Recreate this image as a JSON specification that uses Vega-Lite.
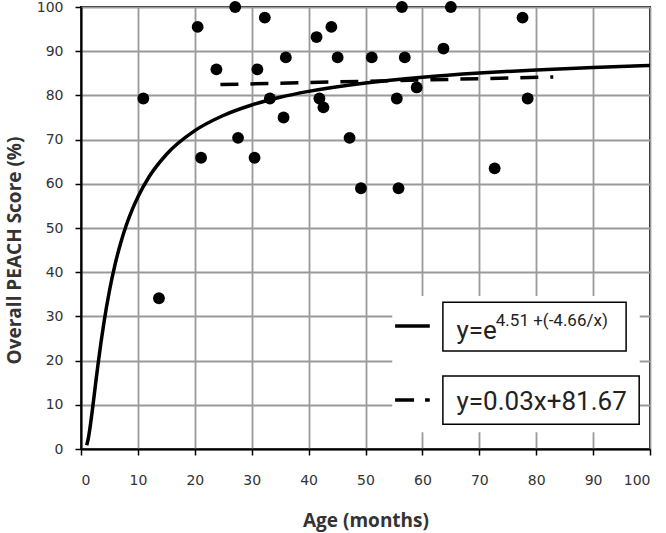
{
  "$schema": "https://vega.github.io/schema/vega-lite/v6.json",
  "width": 569,
  "height": 442,
  "autosize": {"type": "none"},
  "padding": {"left": 81, "top": 7, "right": 16, "bottom": 84},
  "background": "white",
  "config": {
    "view": {"stroke": "black", "strokeWidth": 2},
    "axis": {
      "grid": true,
      "gridColor": "#9a9a9a",
      "gridWidth": 1.8,
      "gridOpacity": 1,
      "domainColor": "black",
      "domainWidth": 2,
      "tickColor": "black",
      "tickWidth": 1.5,
      "tickSize": 6,
      "labelFont": "DejaVu Sans",
      "labelFontSize": 14,
      "labelColor": "#333333",
      "titleFont": "Open Sans",
      "titleFontWeight": "bold",
      "titleFontSize": 19,
      "titleColor": "#333333"
    }
  },
  "datasets": {
    "pts": [
      {"age": 10.95, "score": 79.3},
      {"age": 13.7, "score": 34.1},
      {"age": 20.5, "score": 95.5},
      {"age": 21.1, "score": 65.9},
      {"age": 23.8, "score": 85.9},
      {"age": 27.1, "score": 100},
      {"age": 27.6, "score": 70.4},
      {"age": 30.5, "score": 65.9},
      {"age": 31.0, "score": 85.9},
      {"age": 32.3, "score": 97.6},
      {"age": 33.2, "score": 79.3},
      {"age": 35.6, "score": 75.0},
      {"age": 36.0, "score": 88.6},
      {"age": 41.4, "score": 93.2},
      {"age": 41.9, "score": 79.3},
      {"age": 42.6, "score": 77.3},
      {"age": 44.0, "score": 95.5},
      {"age": 45.1, "score": 88.6},
      {"age": 47.2, "score": 70.4},
      {"age": 49.2, "score": 59.0},
      {"age": 51.1, "score": 88.6},
      {"age": 55.5, "score": 79.3},
      {"age": 55.8, "score": 59.0},
      {"age": 56.4, "score": 100},
      {"age": 56.9, "score": 88.6},
      {"age": 59.0, "score": 81.8},
      {"age": 63.7, "score": 90.6},
      {"age": 65.0, "score": 100},
      {"age": 72.7, "score": 63.5},
      {"age": 77.6, "score": 97.6},
      {"age": 78.5, "score": 79.3}
    ],
    "curve": [
      {"age": 1, "score": 0.86},
      {"age": 1.25, "score": 2.19},
      {"age": 1.5, "score": 4.07},
      {"age": 2, "score": 8.85},
      {"age": 2.5, "score": 14.1},
      {"age": 3, "score": 19.23},
      {"age": 3.5, "score": 24.01},
      {"age": 4, "score": 28.36},
      {"age": 5, "score": 35.81},
      {"age": 6, "score": 41.82},
      {"age": 7, "score": 46.73},
      {"age": 8, "score": 50.79},
      {"age": 9, "score": 54.17},
      {"age": 10, "score": 57.04},
      {"age": 12, "score": 61.65},
      {"age": 15, "score": 66.63},
      {"age": 20, "score": 72.02},
      {"age": 25, "score": 75.45},
      {"age": 30, "score": 77.83},
      {"age": 35, "score": 79.58},
      {"age": 40, "score": 80.91},
      {"age": 50, "score": 82.82},
      {"age": 60, "score": 84.12},
      {"age": 70, "score": 85.06},
      {"age": 80, "score": 85.77},
      {"age": 90, "score": 86.33},
      {"age": 100, "score": 86.78}
    ],
    "trend": [
      {"age": 24.5, "score": 82.45},
      {"age": 83, "score": 84.16}
    ],
    "backdrop": [
      {"x1": 54.7, "x2": 98.2, "y1": 3.8, "y2": 34.6}
    ],
    "boxes": [
      {"x1": 63.6, "x2": 95.8, "y1": 22.2, "y2": 33.2},
      {"x1": 63.6, "x2": 98.1, "y1": 5.6, "y2": 16.5}
    ],
    "solidKey": [
      {"age": 55.2, "score": 27.8},
      {"age": 61.3, "score": 27.8}
    ],
    "dashKey": [
      {"age": 55.2, "score": 11.1},
      {"age": 61.3, "score": 11.1}
    ],
    "bigText": [
      {"age": 66.0, "score": 24.9, "label": "y=e"},
      {"age": 66.0, "score": 8.8, "label": "y=0.03x+81.67"}
    ],
    "supText": [
      {"age": 72.9, "score": 27.9, "label": "4.51 +(-4.66/x)"}
    ]
  },
  "layer": [
    {
      "data": {"name": "curve"},
      "mark": {"type": "line", "color": "black", "strokeWidth": 3.5, "interpolate": "monotone"},
      "encoding": {
        "x": {
          "field": "age", "type": "quantitative",
          "scale": {"domain": [0, 100], "nice": false},
          "axis": {"values": [0,10,20,30,40,50,60,70,80,90,100], "title": "Age (months)", "labelPadding": 18, "titleY": 71, "titleBaseline": "middle"}
        },
        "y": {
          "field": "score", "type": "quantitative",
          "scale": {"domain": [0, 100], "nice": false},
          "axis": {"values": [0,10,20,30,40,50,60,70,80,90,100], "title": "Overall PEACH Score (%)", "labelPadding": 12, "titleX": -67, "titleY": 243, "titleBaseline": "middle"}
        }
      }
    },
    {
      "data": {"name": "trend"},
      "mark": {"type": "line", "color": "black", "strokeWidth": 3.5, "strokeDash": [18, 12]},
      "encoding": {
        "x": {"field": "age", "type": "quantitative"},
        "y": {"field": "score", "type": "quantitative"}
      }
    },
    {
      "data": {"name": "pts"},
      "mark": {"type": "circle", "color": "black", "opacity": 1, "size": 140},
      "encoding": {
        "x": {"field": "age", "type": "quantitative"},
        "y": {"field": "score", "type": "quantitative"}
      }
    },
    {
      "data": {"name": "backdrop"},
      "mark": {"type": "rect", "fill": "white", "stroke": null},
      "encoding": {
        "x": {"field": "x1", "type": "quantitative"},
        "x2": {"field": "x2"},
        "y": {"field": "y1", "type": "quantitative"},
        "y2": {"field": "y2"}
      }
    },
    {
      "data": {"name": "boxes"},
      "mark": {"type": "rect", "fill": "white", "stroke": "black", "strokeWidth": 1.5},
      "encoding": {
        "x": {"field": "x1", "type": "quantitative"},
        "x2": {"field": "x2"},
        "y": {"field": "y1", "type": "quantitative"},
        "y2": {"field": "y2"}
      }
    },
    {
      "data": {"name": "solidKey"},
      "mark": {"type": "line", "color": "black", "strokeWidth": 3.5},
      "encoding": {
        "x": {"field": "age", "type": "quantitative"},
        "y": {"field": "score", "type": "quantitative"}
      }
    },
    {
      "data": {"name": "dashKey"},
      "mark": {"type": "line", "color": "black", "strokeWidth": 3.5, "strokeDash": [19, 11]},
      "encoding": {
        "x": {"field": "age", "type": "quantitative"},
        "y": {"field": "score", "type": "quantitative"}
      }
    },
    {
      "data": {"name": "bigText"},
      "mark": {"type": "text", "font": "Roboto", "fontSize": 26, "align": "left", "baseline": "alphabetic", "color": "#222222"},
      "encoding": {
        "x": {"field": "age", "type": "quantitative"},
        "y": {"field": "score", "type": "quantitative"},
        "text": {"field": "label"}
      }
    },
    {
      "data": {"name": "supText"},
      "mark": {"type": "text", "font": "Roboto", "fontSize": 17, "align": "left", "baseline": "alphabetic", "color": "#222222"},
      "encoding": {
        "x": {"field": "age", "type": "quantitative"},
        "y": {"field": "score", "type": "quantitative"},
        "text": {"field": "label"}
      }
    }
  ]
}
